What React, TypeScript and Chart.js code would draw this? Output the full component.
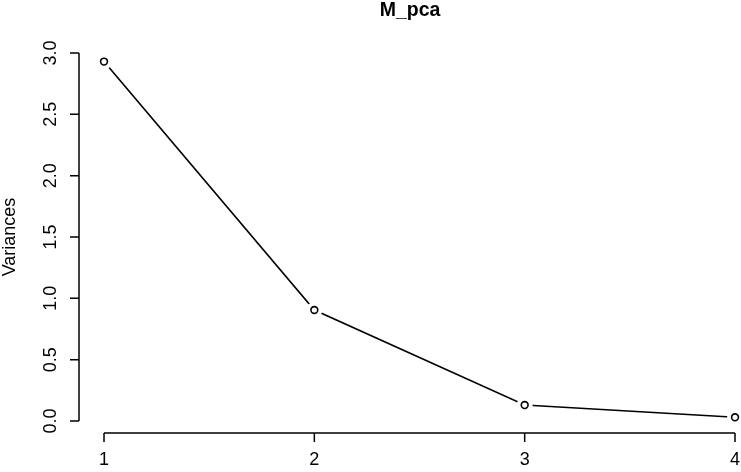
import React, { useEffect, useRef } from "react";
import { Chart, registerables } from "chart.js";

Chart.register(...registerables);

const title = "M_pca";
const yLabel = "Variances";
const components = [1, 2, 3, 4];
const variances = [2.93, 0.905, 0.13, 0.03];
const yTicks = [0, 0.5, 1, 1.5, 2, 2.5, 3];
const xTicks = [1, 2, 3, 4];

const FONT = "'Liberation Sans', Arial, Helvetica, sans-serif";

const rAxesPlugin = {
  id: "rAxes",
  afterDraw(chart: any) {
    const ctx = chart.ctx;
    const xs = chart.scales.x;
    const ys = chart.scales.y;
    const area = chart.chartArea;
    ctx.save();
    ctx.strokeStyle = "#000";
    ctx.fillStyle = "#000";
    ctx.lineWidth = 1.5;
    ctx.lineCap = "butt";

    // y axis
    const yAxisX = area.left;
    const y0 = ys.getPixelForValue(yTicks[0]);
    const y1 = ys.getPixelForValue(yTicks[yTicks.length - 1]);
    ctx.beginPath();
    ctx.moveTo(yAxisX, y0);
    ctx.lineTo(yAxisX, y1);
    for (const t of yTicks) {
      const py = ys.getPixelForValue(t);
      ctx.moveTo(yAxisX, py);
      ctx.lineTo(yAxisX - 9, py);
    }
    ctx.stroke();
    ctx.font = `18px ${FONT}`;
    ctx.textAlign = "center";
    ctx.textBaseline = "middle";
    for (const t of yTicks) {
      const py = ys.getPixelForValue(t);
      ctx.save();
      ctx.translate(51, py);
      ctx.rotate(-Math.PI / 2);
      ctx.fillText(t.toFixed(1), 0, 0);
      ctx.restore();
    }

    // x axis
    const xAxisY = area.bottom + 1;
    const x0 = xs.getPixelForValue(xTicks[0]);
    const x1 = xs.getPixelForValue(xTicks[xTicks.length - 1]);
    ctx.beginPath();
    ctx.moveTo(x0, xAxisY);
    ctx.lineTo(x1, xAxisY);
    for (const t of xTicks) {
      const px = xs.getPixelForValue(t);
      ctx.moveTo(px, xAxisY);
      ctx.lineTo(px, xAxisY + 9);
    }
    ctx.stroke();
    for (const t of xTicks) {
      const px = xs.getPixelForValue(t);
      ctx.fillText(String(t), px, 460);
    }

    // y label
    ctx.save();
    ctx.translate(10, (area.top + area.bottom) / 2);
    ctx.rotate(-Math.PI / 2);
    ctx.fillText(yLabel, 0, 0);
    ctx.restore();

    // title
    ctx.font = `bold 19.5px ${FONT}`;
    ctx.fillText(title, (area.left + area.right) / 2, 11);
    ctx.restore();
  },
};

export default function App() {
  const ref = useRef<HTMLCanvasElement | null>(null);
  useEffect(() => {
    document.body.style.margin = "0";
    const data = components.map((c, i) => ({ x: c, y: variances[i] }));
    const chart = new Chart(ref.current as HTMLCanvasElement, {
      type: "scatter",
      data: {
        datasets: [
          {
            data,
            showLine: true,
            borderColor: "#000",
            borderWidth: 1.6,
            pointRadius: 0,
            order: 3,
            clip: false as any,
          },
          {
            data,
            showLine: false,
            pointRadius: 8,
            pointBackgroundColor: "#fff",
            pointBorderColor: "#fff",
            pointBorderWidth: 0,
            order: 2,
            clip: false as any,
          },
          {
            data,
            showLine: false,
            pointRadius: 3.4,
            pointBackgroundColor: "#fff",
            pointBorderColor: "#000",
            pointBorderWidth: 1.6,
            order: 1,
            clip: false as any,
          },
        ],
      },
      options: {
        animation: false,
        responsive: false,
        maintainAspectRatio: false,
        events: [],
        layout: { autoPadding: false, padding: { left: 79, right: 0, top: 42, bottom: 40 } },
        plugins: {
          legend: { display: false },
          title: { display: false },
          tooltip: { enabled: false },
        },
        scales: {
          x: { type: "linear", min: 0.8811, max: 4.0285, display: false },
          y: { type: "linear", min: -0.0897, max: 3.0897, display: false },
        },
      },
      plugins: [rAxesPlugin],
    });
    return () => chart.destroy();
  }, []);
  return (
    <div style={{ width: 741, height: 472, background: "#fff" }}>
      <canvas ref={ref} width={741} height={472} style={{ display: "block" }} />
    </div>
  );
}
